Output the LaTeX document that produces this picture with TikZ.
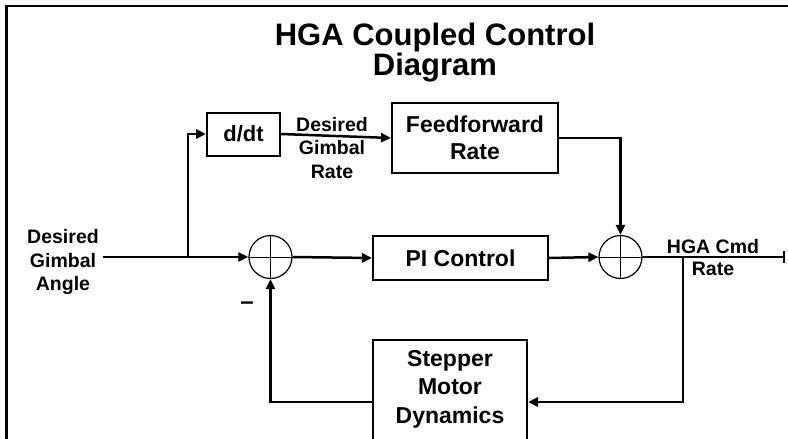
\documentclass[tikz,border=0pt]{standalone}
\usepackage{fontspec}
\setmainfont{Liberation Sans}
\usetikzlibrary{arrows.meta}
\begin{document}
\begin{tikzpicture}[x=1pt,y=-1pt,
  conn/.style={line width=2.5pt},
  arr/.style={conn,-{Triangle[length=10pt,width=9pt]}},
  blk/.style={draw,line width=2pt,rectangle,inner sep=0pt,align=center,font=\fontsize{23}{27}\selectfont\bfseries},
  sumc/.style={draw,line width=1.2pt,circle,minimum size=43pt,inner sep=0pt},
  lbl/.style={align=center,font=\fontsize{19.5}{23.5}\selectfont\bfseries,inner sep=0pt},
  crossline/.style={line width=1pt}]
\useasboundingbox (0,0) rectangle (788,439);
% frame
\draw[line width=2.7pt] (6.5,460) -- (6.5,6) -- (800,6);
% title
\node[align=center,font=\fontsize{31}{30}\selectfont\bfseries,inner sep=0pt] (title) at (435,53) {HGA Coupled Control\\Diagram};
% blocks
\node[blk,minimum width=73pt,minimum height=43pt,font=\fontsize{22}{27}\selectfont\bfseries] (dd) at (243.5,134) {d/dt};
\node[blk,minimum width=166pt,minimum height=70pt] (ff) at (475,138) {Feedforward\\Rate};
\node[blk,minimum width=175pt,minimum height=44pt] (pi) at (460.5,258) {PI Control};
\node[blk,minimum width=154pt,minimum height=124pt] (sm) at (450,402) {};
\node[align=center,inner sep=0pt,font=\fontsize{23}{28.5}\selectfont\bfseries] (smtext) at (450,389) {Stepper\\Motor\\Dynamics};
% summing junctions
\node[sumc] (s1) at (270.5,257) {};
\node[sumc] (s2) at (620.5,257) {};
\draw[crossline] (s1.north) -- (s1.south) (s1.west) -- (s1.east);
\draw[crossline] (s2.north) -- (s2.south) (s2.west) -- (s2.east);
% coordinates
\coordinate (in) at (103,257);
\coordinate (br1) at (188,257);
\coordinate (br2) at (683,257);
\coordinate (out) at (785,257);
% labels
\node[lbl] (inlbl) at (63,262) {Desired\\Gimbal\\Angle};
\node[lbl] (ratelbl) at (332,148) {Desired\\Gimbal\\Rate};
\node[lbl,font=\fontsize{19.5}{22}\selectfont\bfseries] (outlbl) at (713,258) {HGA Cmd\\Rate};
\node[lbl,font=\fontsize{24}{24}\selectfont\bfseries] (minus) at (247,306) {–};
% connectors
\draw[arr] (in) -- (s1.west);
\draw[arr] (br1) |- (dd.west);
\draw[arr] (dd.east) -- (ff.west);
\draw[arr] (ff.east) -| (s2.north);
\draw[arr] (s1.east) -- (pi.west);
\draw[arr] (pi.east) -- (s2.west);
\draw[conn,-{Bar[width=12pt,line width=2pt]}] (s2.east) -- (out);
\draw[arr] (br2) |- (sm.east);
\draw[arr] (sm.west) -| (s1.south);
\end{tikzpicture}
\end{document}
